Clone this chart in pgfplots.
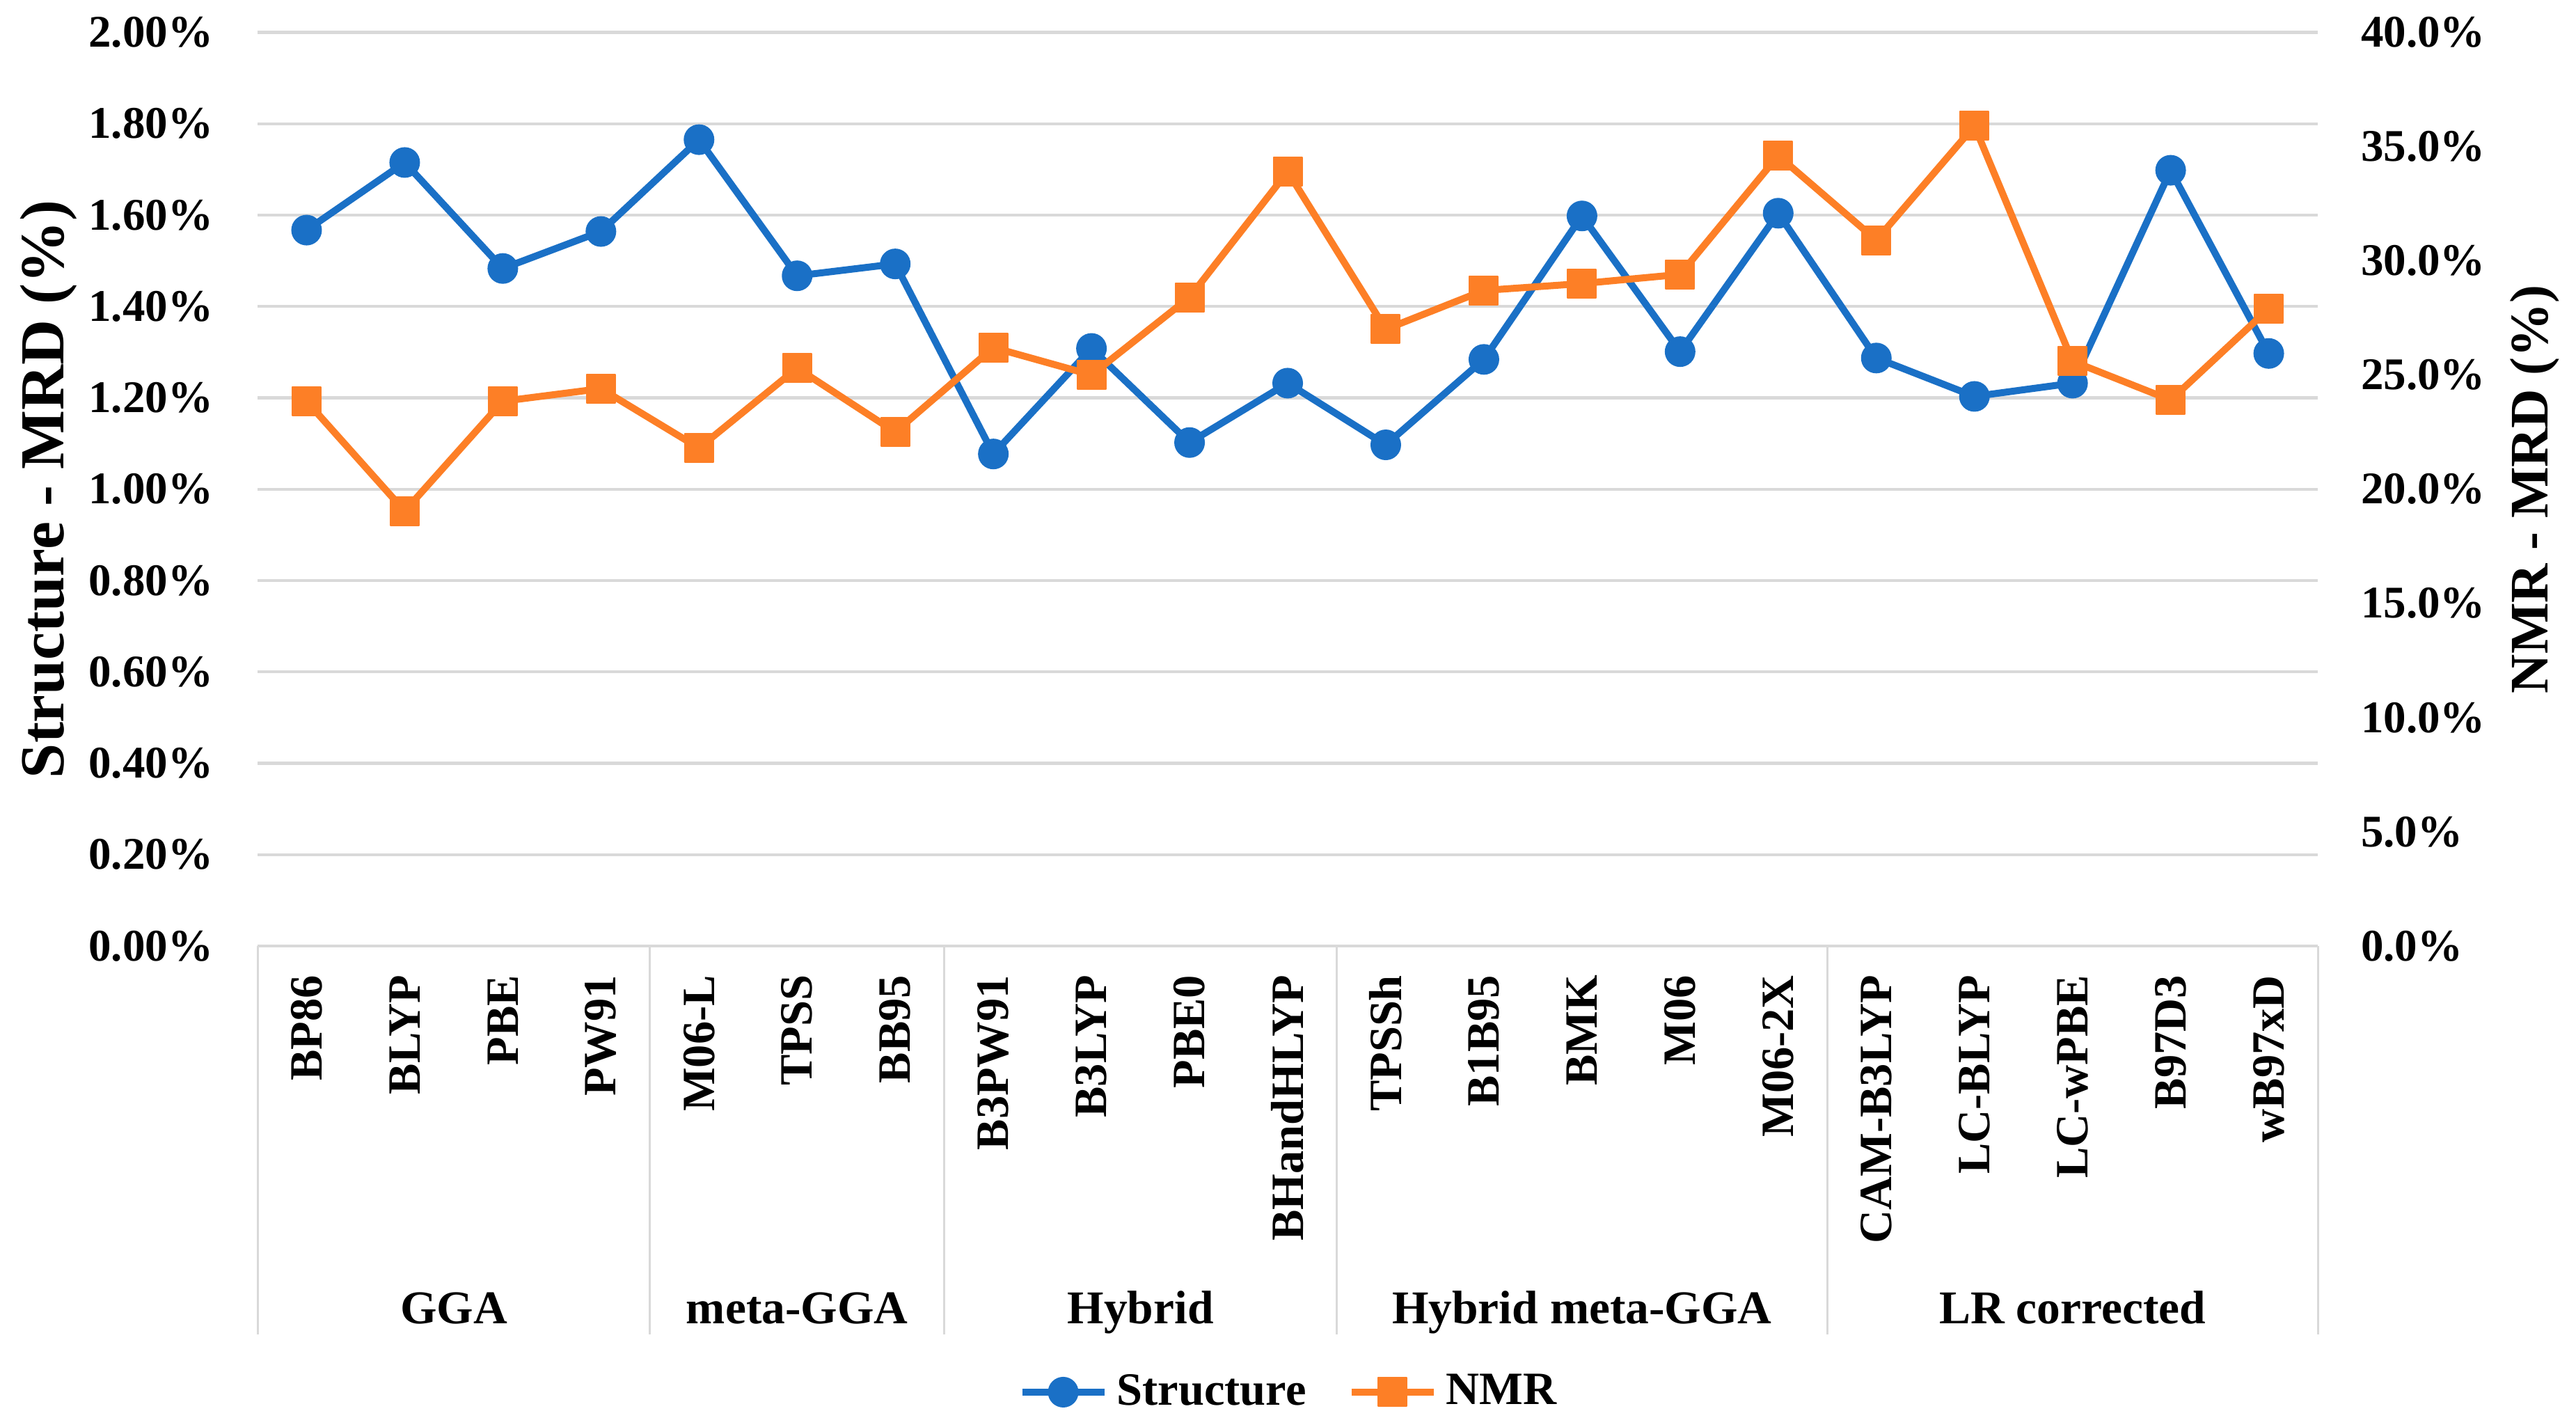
\documentclass[border=0pt]{standalone}
\usepackage{pgfplots}
\pgfplotsset{compat=1.18}
\usepackage{fontspec}
\setmainfont{Liberation Serif}
\definecolor{strblue}{RGB}{26,112,198}
\definecolor{nmrorange}{RGB}{253,127,38}
\definecolor{gridgray}{RGB}{217,217,217}

\pgfplotsset{
  common/.style={
    scale only axis,
    width=592pt, height=262.52pt,
    at={(74pt,138pt)}, anchor=south west,
    xmin=-0.5, xmax=20.5,
    ymin=0,
    axis line style={draw=none},
    major tick style={draw=none},
    minor tick num=0,
    /pgf/number format/assume math mode=true,
    clip=false,
  },
}
\tikzset{
  groupsep/.style={gridgray, line width=0.6pt},
  grp/.style={font=\fontsize{13.5}{13.5}\selectfont\bfseries, inner sep=0pt, anchor=base},
}

\begin{document}
\begin{tikzpicture}
\path[use as bounding box] (0,0) rectangle (740.2pt,409.8pt);

% left axis: structure
\begin{axis}[common,
  ymax=2,
  ytick={0,0.2,0.4,0.6,0.8,1.0,1.2,1.4,1.6,1.8,2.0},
  yticklabels={0.00\%,0.20\%,0.40\%,0.60\%,0.80\%,1.00\%,1.20\%,1.40\%,1.60\%,1.80\%,2.00\%},
  yticklabel style={inner sep=0pt, font=\fontsize{13}{13}\selectfont\bfseries},
  yticklabel shift=12.6pt,
  xtick={0,...,20},
  xticklabels={BP86,BLYP,PBE,PW91,M06-L,TPSS,BB95,B3PW91,B3LYP,PBE0,BHandHLYP,TPSSh,B1B95,BMK,M06,M06-2X,CAM-B3LYP,LC-BLYP,LC-wPBE,B97D3,wB97xD},
  xticklabel style={rotate=90, anchor=east, inner sep=0pt, font=\fontsize{13.3}{13.3}\selectfont\bfseries},
  xticklabel shift=8.2pt,
  ymajorgrids=true,
  grid style={gridgray, line width=0.85pt},
  ylabel={Structure - MRD (\%)},
  every axis y label/.style={at={(axis description cs:-0.1014,0.5)}, rotate=90, anchor=center,
    font=\fontsize{18}{18}\selectfont\bfseries},
]
\addplot[strblue, line width=2pt, line join=round, mark=*, mark size=4.2pt,
  mark options={solid, line width=0.4pt, fill=strblue}] coordinates {
  (0,1.567) (1,1.715) (2,1.483) (3,1.564) (4,1.765) (5,1.467) (6,1.493)
  (7,1.077) (8,1.308) (9,1.102) (10,1.232)
  (11,1.097) (12,1.284) (13,1.598) (14,1.301) (15,1.604)
  (16,1.287) (17,1.203) (18,1.232) (19,1.698) (20,1.297)
};
% group separators and names
\draw[groupsep] (axis cs:-0.5,0) -- ++(0pt,-111.6pt);
\draw[groupsep] (axis cs:3.5,0) -- ++(0pt,-111.6pt);
\draw[groupsep] (axis cs:6.5,0) -- ++(0pt,-111.6pt);
\draw[groupsep] (axis cs:10.5,0) -- ++(0pt,-111.6pt);
\draw[groupsep] (axis cs:15.5,0) -- ++(0pt,-111.6pt);
\draw[groupsep] (axis cs:20.5,0) -- ++(0pt,-111.6pt);
\node[grp] at ([yshift=-108.4pt]axis cs:1.5,0) {GGA};
\node[grp] at ([yshift=-108.4pt]axis cs:5,0) {meta-GGA};
\node[grp] at ([yshift=-108.4pt]axis cs:8.5,0) {Hybrid};
\node[grp] at ([yshift=-108.4pt]axis cs:13,0) {Hybrid meta-GGA};
\node[grp] at ([yshift=-108.4pt]axis cs:18,0) {LR corrected};
\end{axis}

% right axis: NMR
\begin{axis}[common,
  ymax=40,
  axis x line=none,
  axis y line*=right,
  ytick={0,5,10,15,20,25,30,35,40},
  yticklabels={0.0\%,5.0\%,10.0\%,15.0\%,20.0\%,25.0\%,30.0\%,35.0\%,40.0\%},
  yticklabel style={inner sep=0pt, font=\fontsize{13}{13}\selectfont\bfseries},
  yticklabel shift=12.2pt,
  ylabel={NMR - MRD (\%)},
  every axis y label/.style={at={(axis description cs:1.1054,0.5)}, rotate=90, anchor=center,
    font=\fontsize{15.6}{15.6}\selectfont\bfseries},
  legend columns=2,
  legend style={at={(0.5,-0.4883)}, anchor=center, draw=none, fill=none,
    font=\fontsize{13.3}{13.3}\selectfont\bfseries,
    nodes={inner sep=0pt},
    /tikz/every odd column/.append style={column sep=2.6pt},
    /tikz/every even column/.append style={column sep=12pt}},
  legend image code/.code={
    \draw[mark repeat=2, mark phase=2, #1] plot coordinates {(0pt,0pt) (11.8pt,0pt) (23.6pt,0pt)};
  },
]
\addlegendimage{strblue, line width=2pt, mark=*, mark size=4.2pt, mark options={solid, line width=0.4pt, fill=strblue}}
\addlegendentry{Structure}
\addplot[nmrorange, line width=2pt, line join=round, mark=square*, mark size=4.1pt,
  mark options={solid, line width=0.4pt, fill=nmrorange}] coordinates {
  (0,23.85) (1,19.04) (2,23.85) (3,24.4) (4,21.8) (5,25.3) (6,22.5)
  (7,26.2) (8,25.0) (9,28.4) (10,33.9)
  (11,27.0) (12,28.7) (13,29.0) (14,29.4) (15,34.6)
  (16,30.9) (17,35.9) (18,25.6) (19,23.9) (20,27.9)
};
\addlegendentry{NMR}
\end{axis}
\end{tikzpicture}
\end{document}
